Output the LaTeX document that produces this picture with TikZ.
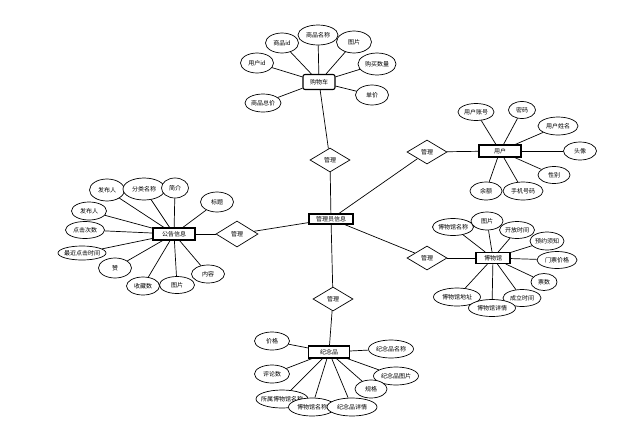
\documentclass[tikz,border=0pt]{standalone}
\usepackage{fontspec}
\setmainfont{Noto Sans CJK SC}
\usetikzlibrary{shapes.geometric}
\newcommand\zb[1]{\makebox[0pt]{#1}}
\begin{document}
\begin{tikzpicture}[x=1pt,y=-1pt,
  every node/.style={font=\fontsize{6}{7}\selectfont},
  attr/.style={ellipse, draw, fill=white, line width=0.7pt, inner sep=0pt, minimum width=34pt, minimum height=18pt},
  ent/.style={rectangle, draw, fill=white, line width=1.1pt, inner sep=0pt, minimum width=42pt, minimum height=12pt},
  rel/.style={diamond, draw, fill=white, line width=0.7pt, inner sep=0pt, minimum width=40pt, minimum height=24pt},
  ln/.style={line width=0.7pt}]
\useasboundingbox (0,0) rectangle (638,432);
% entities
\node[ent, minimum width=44pt, minimum height=10pt] (adm) at (331,219) {\zb{管理员信息}};
\node[ent, rounded corners=2pt, minimum width=32pt, minimum height=15pt] (cart) at (319,82) {\zb{购物车}};
\node[ent] (user) at (500,151) {\zb{用户}};
\node[ent, minimum width=34pt, minimum height=11pt] (mus) at (493,258) {\zb{博物馆}};
\node[ent] (ann) at (174,234) {\zb{公告信息}};
\node[ent, minimum width=41pt] (sou) at (329,352) {\zb{纪念品}};
% relations
\node[rel] (r1) at (330,160) {\zb{管理}};
\node[rel] (r2) at (427,152) {\zb{管理}};
\node[rel] (r3) at (427,258) {\zb{管理}};
\node[rel, minimum width=42pt, minimum height=26pt] (r4) at (237,234) {\zb{管理}};
\node[rel] (r5) at (333,299) {\zb{管理}};
% cart attributes
\node[attr, minimum width=33pt, minimum height=20pt] (c1) at (282,43) {\zb{商品id}};
\node[attr, minimum width=40pt, minimum height=20pt] (c2) at (318,35) {\zb{商品名称}};
\node[attr, minimum width=35pt, minimum height=22pt] (c3) at (354,42) {\zb{图片}};
\node[attr, minimum width=38pt, minimum height=22pt] (c4) at (377,64) {\zb{购买数量}};
\node[attr, minimum width=33pt, minimum height=20pt] (c5) at (372,95) {\zb{单价}};
\node[attr, minimum width=36pt, minimum height=18pt] (c6) at (263,103) {\zb{商品总价}};
\node[attr, minimum width=33pt, minimum height=20pt] (c7) at (257,63) {\zb{用户id}};
% user attributes
\node[attr, minimum width=36pt, minimum height=17pt] (u1) at (476,112) {\zb{用户账号}};
\node[attr, minimum width=27pt, minimum height=17pt] (u2) at (522,110) {\zb{密码}};
\node[attr, minimum width=40pt, minimum height=18pt] (u3) at (558,126) {\zb{用户姓名}};
\node[attr, minimum width=33pt, minimum height=18pt] (u4) at (580,151) {\zb{头像}};
\node[attr, minimum width=32pt, minimum height=17pt] (u5) at (554,175) {\zb{性别}};
\node[attr, minimum width=40pt, minimum height=18pt] (u6) at (523,191) {\zb{手机号码}};
\node[attr, minimum width=32pt, minimum height=18pt] (u7) at (486,191) {\zb{余额}};
% museum attributes
\node[attr, minimum width=41pt, minimum height=17pt] (m1) at (453,227) {\zb{博物馆名称}};
\node[attr, minimum width=32pt, minimum height=18pt] (m2) at (487,221) {\zb{图片}};
\node[attr, minimum width=35pt, minimum height=17pt] (m3) at (517,230) {\zb{开放时间}};
\node[attr, minimum width=34pt, minimum height=18pt] (m4) at (547,241) {\zb{预约须知}};
\node[attr, minimum width=40pt, minimum height=17pt] (m5) at (557,260) {\zb{门票价格}};
\node[attr, minimum width=26pt, minimum height=17pt] (m6) at (544,282) {\zb{票数}};
\node[attr, minimum width=38pt, minimum height=17pt] (m7) at (522,298) {\zb{成立时间}};
\node[attr, minimum width=47pt, minimum height=18pt] (m9) at (457,297) {\zb{博物馆地址}};
\node[attr, minimum width=47pt, minimum height=17pt] (m8) at (492,308) {\zb{博物馆详情}};
% announcement attributes
\node[attr, minimum width=35pt, minimum height=22pt] (a1) at (107,190) {\zb{发布人}};
\node[attr, minimum width=42pt, minimum height=22pt] (a2) at (144,189) {\zb{分类名称}};
\node[attr, minimum width=27pt, minimum height=20pt] (a3) at (175,188) {\zb{简介}};
\node[attr, minimum width=33pt, minimum height=20pt] (a4) at (217,202) {\zb{标题}};
\node[attr, minimum width=35pt, minimum height=18pt] (a5) at (89,211) {\zb{发布人}};
\node[attr, minimum width=39pt, minimum height=17pt] (a6) at (85,230) {\zb{点击次数}};
\node[attr, minimum width=48pt, minimum height=14pt] (a7) at (82,253) {\zb{最近点击时间}};
\node[attr, minimum width=33pt, minimum height=20pt] (a8) at (115,268) {\zb{赞}};
\node[attr, minimum width=33pt, minimum height=18pt] (a9) at (143,286) {\zb{收藏数}};
\node[attr, minimum width=35pt, minimum height=17pt] (a10) at (177,285) {\zb{图片}};
\node[attr, minimum width=33pt, minimum height=18pt] (a11) at (208,274) {\zb{内容}};
% souvenir attributes
\node[attr, minimum width=35pt, minimum height=18pt] (s1) at (272,341) {\zb{价格}};
\node[attr, minimum width=35pt, minimum height=18pt] (s2) at (272,374) {\zb{评论数}};
\node[attr, minimum width=45pt, minimum height=18pt] (s3) at (391,349) {\zb{纪念品名称}};
\node[attr, minimum width=45pt, minimum height=18pt] (s4) at (396,376) {\zb{纪念品图片}};
\node[attr, minimum width=32pt, minimum height=18pt] (s5) at (371,389) {\zb{规格}};
\node[attr, minimum width=52pt, minimum height=18pt] (s6) at (282,399) {\zb{所属博物馆名称}};
\node[attr, minimum width=47pt, minimum height=18pt] (s7) at (312,407) {\zb{博物馆名称}};
\node[attr, minimum width=50pt, minimum height=18pt] (s8) at (352,407) {\zb{纪念品详情}};
% connectors
\draw[ln] (adm) -- (r1); \draw[ln] (r1) -- (cart);
\draw[ln] (adm) -- (r2); \draw[ln] (r2) -- (user);
\draw[ln] (adm) -- (r3); \draw[ln] (r3) -- (mus);
\draw[ln] (adm) -- (r4); \draw[ln] (r4) -- (ann);
\draw[ln] (adm) -- (r5); \draw[ln] (r5) -- (sou);
\foreach \a in {c1,c2,c3,c4,c5,c6,c7} \draw[ln] (cart) -- (\a);
\foreach \a in {u1,u2,u3,u4,u5,u6,u7} \draw[ln] (user) -- (\a);
\foreach \a in {m1,m2,m3,m4,m5,m6,m7,m8,m9} \draw[ln] (mus) -- (\a);
\foreach \a in {a1,a2,a3,a4,a5,a6,a7,a8,a9,a10,a11} \draw[ln] (ann) -- (\a);
\foreach \a in {s1,s2,s3,s4,s5,s6,s7,s8} \draw[ln] (sou) -- (\a);
\end{tikzpicture}
\end{document}
